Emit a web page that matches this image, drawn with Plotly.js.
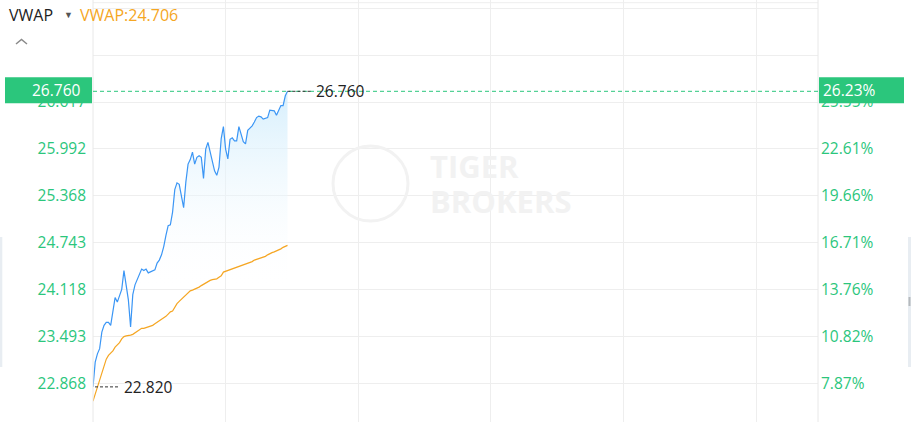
<!DOCTYPE html>
<html><head><meta charset="utf-8">
<script src="https://cdn.plot.ly/plotly-3.0.1.min.js"></script>
<style>html,body{margin:0;padding:0;background:#fff;overflow:hidden}#chart{width:911px;height:422px}</style>
</head><body><div id="chart"></div>
<script>
// minutes since 09:30 (HK session, lunch break removed)
const minutes = [0,1,2,3,4,5,6,7,8,9,10,11,12,13,14,15,16,17,18,19,20,21,22,23,24,25,26,27,28,29,
30,31,32,33,34,35,36,37,38,39,40,41,42,43,44,45,46,47,48,49,50,51,52,53,54,55,56,57,58,59,
60,61,62,63,64,65,66,67,68,69,70,71,72,73,74,75,76,77,78,79,80,81,82,83,84,85,86,87,88];
const price = [22.82,23.15,23.26,23.33,23.55,23.64,23.68,23.68,23.64,23.82,
24.01,23.95,24.05,24.12,24.37,24.18,23.98,23.62,24.05,24.18,
24.25,24.31,24.39,24.37,24.39,24.34,24.35,24.36,24.38,24.47,
24.51,24.58,24.69,24.84,24.97,24.98,25.15,25.45,25.54,25.52,
25.37,25.21,25.55,25.79,25.85,25.95,25.79,25.88,25.90,25.88,
25.60,25.99,26.08,25.94,25.82,25.70,25.64,25.75,26.13,26.29,
25.99,25.86,26.12,26.14,26.10,26.10,26.29,26.18,26.09,26.06,
26.24,26.27,26.30,26.35,26.41,26.43,26.42,26.39,26.40,26.41,
26.51,26.50,26.50,26.44,26.51,26.57,26.57,26.70,26.76];
const vwap = [22.63,22.72,22.82,22.93,23.02,23.11,23.19,23.24,23.27,23.30,
23.35,23.38,23.41,23.46,23.49,23.50,23.50,23.51,23.52,23.54,
23.56,23.58,23.60,23.60,23.61,23.62,23.62,23.64,23.66,23.68,
23.69,23.71,23.74,23.76,23.79,23.82,23.83,23.88,23.93,23.96,
23.99,24.01,24.04,24.08,24.10,24.11,24.12,24.14,24.15,24.17,
24.19,24.21,24.22,24.24,24.25,24.25,24.26,24.28,24.30,24.35,
24.36,24.37,24.38,24.40,24.41,24.41,24.43,24.44,24.45,24.46,
24.47,24.48,24.49,24.51,24.52,24.53,24.54,24.54,24.56,24.58,
24.60,24.61,24.62,24.63,24.65,24.66,24.68,24.69,24.706];
const prevClose = 21.20;
const priceTicks = [22.868,23.493,24.118,24.743,25.368,25.992,26.617];
const priceTickText = ['22.868','23.493','24.118','24.743','25.368','25.992','26.617'];
const extraGrid = [27.242,27.867];
const pctTickText = ['7.87%','10.82%','13.76%','16.71%','19.66%','22.61%','25.55%'];
const timeGrid = [60,120,180,240,300];
const sessionLength = 328;
const yRange = [22.352,27.977];

const GREEN = '#2bc67c', BLUE = '#3b96f5', ORANGE = '#f5a623';
const FONT = 'Open Sans, Noto Sans, sans-serif';
const W = 911, H = 422, ML = 93, MR = 93;
const PW = W - ML - MR;
const fx = px => (px - ML) / PW;
const fy = py => 1 - py / H;

let maxIdx = 0, minIdx = 0;
price.forEach((p,i)=>{ if(p>price[maxIdx]) maxIdx=i; if(p<price[minIdx]) minIdx=i; });
const maxP = price[maxIdx], minP = price[minIdx];
const toPct = p => (p/prevClose - 1)*100;

const traces = [
  {x: minutes, y: price, type:'scatter', mode:'lines', line:{color:BLUE, width:1.2},
   fill:'tozeroy',
   fillgradient:{type:'vertical', start:24.1, stop:maxP,
     colorscale:[[0,'rgba(255,255,255,0)'],[1,'rgba(210,237,252,0.9)']]},
   hoverinfo:'skip', showlegend:false},
  {x: minutes, y: vwap, type:'scatter', mode:'lines', line:{color:ORANGE, width:1.2},
   hoverinfo:'skip', showlegend:false},
  {x: minutes, y: price.map(toPct), yaxis:'y2', type:'scatter', mode:'lines',
   line:{width:0, color:'rgba(0,0,0,0)'}, hoverinfo:'skip', showlegend:false}
];

const gridC = '#eeeeee';
const shapes = [
  {type:'line', xref:'paper', yref:'paper', x0:0, x1:1, y0:fy(2.7), y1:fy(2.7), line:{color:gridC, width:1}},
  {type:'line', xref:'paper', yref:'paper', x0:0, x1:0, y0:0, y1:1, line:{color:'#e8e8e8', width:1}},
  {type:'line', xref:'paper', yref:'paper', x0:1, x1:1, y0:0, y1:1, line:{color:'#e8e8e8', width:1}},
  {type:'line', xref:'paper', yref:'y', x0:0, x1:1, y0:maxP, y1:maxP, line:{color:GREEN, width:1, dash:'4px,3px'}},
  {type:'line', xref:'x', xsizemode:'pixel', xanchor:minutes[maxIdx], x0:0, x1:25, yref:'y', y0:maxP, y1:maxP, line:{color:'#333', width:1, dash:'3px,2px'}},
  {type:'line', xref:'x', xsizemode:'pixel', xanchor:minutes[minIdx], x0:2, x1:27, yref:'y', y0:minP, y1:minP, line:{color:'#333', width:1, dash:'3px,2px'}},
  {type:'rect', xref:'paper', x0:fx(5), x1:fx(92), yref:'y', ysizemode:'pixel', yanchor:maxP, y0:-12, y1:14, fillcolor:GREEN, line:{width:0}},
  {type:'rect', xref:'paper', x0:fx(819), x1:fx(904), yref:'y', ysizemode:'pixel', yanchor:maxP, y0:-12, y1:14, fillcolor:GREEN, line:{width:0}},
  {type:'rect', xref:'paper', yref:'paper', x0:fx(0), x1:fx(2.3), y0:fy(367), y1:fy(237), fillcolor:'#e8edf2', line:{width:0}},
  {type:'rect', xref:'paper', yref:'paper', x0:fx(908), x1:fx(911), y0:fy(367), y1:fy(237), fillcolor:'#e8edf2', line:{width:0}},
  {type:'rect', xref:'paper', yref:'paper', x0:fx(908.5), x1:fx(910.5), y0:fy(306), y1:fy(297), fillcolor:'#b5b9bd', line:{width:0}},
  {type:'path', xref:'paper', yref:'paper',
   path:`M${fx(16)},${fy(44)} L${fx(21.5)},${fy(39.5)} L${fx(27)},${fy(44)}`, line:{color:'#8a8a8a', width:1.5}},
  {type:'circle', xref:'paper', yref:'paper', x0:fx(333), x1:fx(408), y0:fy(221), y1:fy(146), line:{color:'#f2f2f2', width:3}}
];

const ann = (o) => Object.assign({showarrow:false, font:{family:FONT, size:15}}, o);
const annotations = [
  ann({text:'TIGER', xref:'paper', yref:'paper', x:fx(428), y:fy(166), xanchor:'left', yanchor:'middle', font:{family:FONT, size:31, color:'#f2f2f2', weight:700}}),
  ann({text:'BROKERS', xref:'paper', yref:'paper', x:fx(428), y:fy(201), xanchor:'left', yanchor:'middle', font:{family:FONT, size:31, color:'#f2f2f2', weight:700}}),
  ann({text:maxP.toFixed(3), xref:'paper', x:0, xanchor:'right', xshift:-10, yref:'y', y:maxP, yanchor:'middle', yshift:1, font:{family:FONT, size:15.5, color:'#ffffff'}}),
  ann({text:toPct(maxP).toFixed(2)+'%', xref:'paper', x:1, xanchor:'left', xshift:3, yref:'y', y:maxP, yanchor:'middle', yshift:1, font:{family:FONT, size:15.5, color:'#ffffff'}}),
  ann({text:maxP.toFixed(3), xref:'x', x:minutes[maxIdx], xanchor:'left', xshift:26, yref:'y', y:maxP, yanchor:'middle', font:{family:FONT, size:15.5, color:'#222'}}),
  ann({text:minP.toFixed(3), xref:'x', x:minutes[minIdx], xanchor:'left', xshift:29, yref:'y', y:minP, yanchor:'middle', font:{family:FONT, size:15.5, color:'#222'}}),
  ann({text:'VWAP', xref:'paper', yref:'paper', x:fx(7), y:fy(15), xanchor:'left', yanchor:'middle', font:{family:FONT, size:16, color:'#222'}}),
  ann({text:'▼', xref:'paper', yref:'paper', x:fx(68), y:fy(15), xanchor:'center', yanchor:'middle', font:{family:FONT, size:9, color:'#555'}}),
  ann({text:'VWAP:'+vwap[vwap.length-1].toFixed(3), xref:'paper', yref:'paper', x:fx(78), y:fy(15), xanchor:'left', yanchor:'middle', font:{family:FONT, size:16, color:ORANGE}})
];

const layout = {
  width:W, height:H,
  margin:{l:ML, r:MR, t:0, b:0, pad:0},
  paper_bgcolor:'#ffffff', plot_bgcolor:'#ffffff',
  showlegend:false,
  font:{family:FONT},
  xaxis:{range:[0,sessionLength], tickvals:timeGrid, showticklabels:false, ticks:'',
    showgrid:true, gridcolor:gridC, gridwidth:1, zeroline:false, showline:false},
  yaxis:{range:yRange, tickvals:priceTicks.concat(extraGrid), ticktext:priceTickText.concat(['','']),
    ticks:'', showgrid:true, gridcolor:gridC, gridwidth:1, zeroline:false, showline:false,
    tickfont:{family:FONT, size:15.5, color:GREEN}, ticklabelstandoff:6},
  yaxis2:{overlaying:'y', side:'right', range:yRange.map(toPct), tickvals:priceTicks.map(toPct), ticktext:pctTickText,
    ticks:'', showgrid:false, zeroline:false, showline:false,
    tickfont:{family:FONT, size:15.5, color:GREEN}, ticklabelstandoff:2},
  shapes:shapes, annotations:annotations
};

Plotly.newPlot('chart', traces, layout, {staticPlot:true, displayModeBar:false});
</script>
</body></html>
